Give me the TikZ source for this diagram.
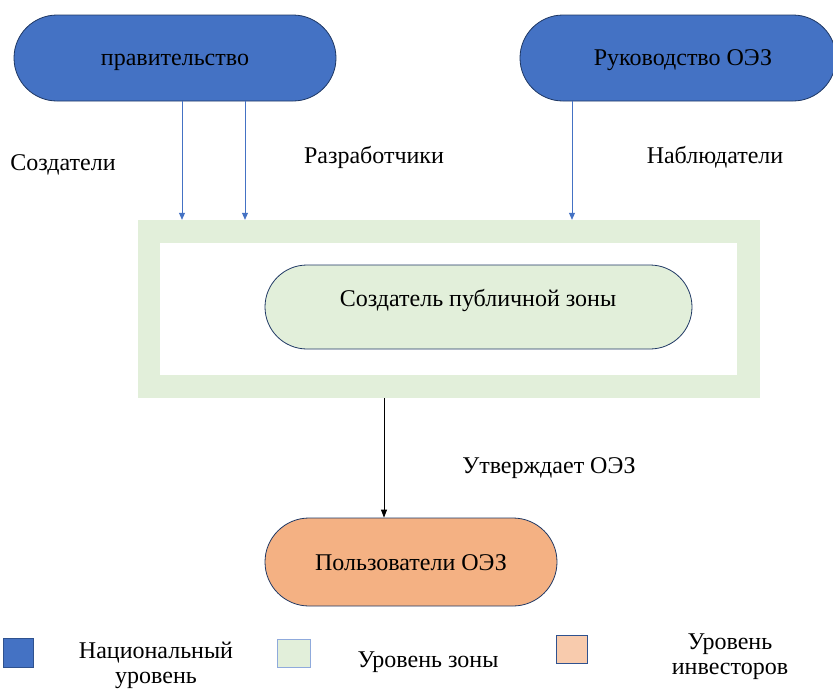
\documentclass[tikz,border=0pt]{standalone}
\usepackage{fontspec}
\setmainfont{Liberation Serif}
\usetikzlibrary{shapes.misc,arrows.meta}
\definecolor{natblue}{HTML}{4472C4}
\definecolor{natborder}{HTML}{2F528F}
\definecolor{zonegreen}{HTML}{E2EFDA}
\definecolor{invorange}{HTML}{F4B183}
\definecolor{invlight}{HTML}{F8CBAD}
\definecolor{darkline}{HTML}{1F3864}
\tikzset{
  stadium/.style={rounded rectangle, draw=darkline, line width=0.8pt, inner sep=0pt},
  lbl/.style={font=\fontsize{24}{25}\selectfont, align=center, inner sep=0pt},
  baselbl/.style={lbl, anchor=base},
  bluearrow/.style={draw=natblue, line width=0.8pt, -{Triangle[width=6pt,length=7pt]}},
  blackarrow/.style={draw=black, line width=0.8pt, -{Triangle[width=6pt,length=8pt]}},
  legbox/.style={minimum width=30pt, minimum height=29pt, inner sep=0pt, line width=0.8pt},
}
\begin{document}
\begin{tikzpicture}[x=1pt,y=-1pt]
\useasboundingbox (0,0) rectangle (833,689);
% top nodes
\node[stadium, fill=natblue, minimum width=322pt, minimum height=86pt] (gov) at (175,58) {};
\node[baselbl] (govtext) at (175,65) {правительство};
\node[stadium, fill=natblue, minimum width=316pt, minimum height=86pt] (adm) at (678,58) {};
\node[baselbl] (admtext) at (683,65) {Руководство ОЭЗ};
% frame
\fill[zonegreen] (138,220) rectangle (760,398);
\fill[white] (160,243) rectangle (737,375);
\node[inner sep=0pt, minimum width=622pt, minimum height=178pt] (frame) at (449,309) {};
% inner stadium
\node[stadium, fill=zonegreen, minimum width=427pt, minimum height=84pt] (creator) at (478.5,307) {};
\node[baselbl] (creatortext) at (478,306.5) {Создатель публичной зоны};
% users
\node[stadium, fill=invorange, minimum width=292pt, minimum height=88pt] (users) at (411,562) {};
\node[baselbl] (userstext) at (411,570) {Пользователи ОЭЗ};
% arrows
\draw[bluearrow] (gov.south -| 182,0) -- (frame.north -| 182,0);
\draw[bluearrow] (gov.south -| 245,0) -- (frame.north -| 245,0);
\draw[bluearrow] (adm.south -| 572,0) -- (frame.north -| 572,0);
\draw[blackarrow] (frame.south -| 384,0) -- (users.north -| 384,0);
% labels
\node[baselbl] (l1) at (63,170) {Создатели};
\node[baselbl] (l2) at (374,163) {Разработчики};
\node[baselbl] (l3) at (715,163) {Наблюдатели};
\node[baselbl] (l4) at (549,473) {Утверждает ОЭЗ};
% legend
\node[legbox, fill=natblue, draw=natborder] (lg1) at (18,652.5) {};
\node[lbl] (lt1) at (156,665.5) {Национальный\\уровень};
\node[legbox, fill=zonegreen, draw=natblue!60, minimum width=33pt, minimum height=28pt] (lg2) at (294,653) {};
\node[baselbl] (lt2) at (428,667) {Уровень зоны};
\node[legbox, fill=invlight, draw=natborder, minimum width=31pt, minimum height=28pt] (lg3) at (571.5,649) {};
\node[lbl] (lt3) at (730,656.5) {Уровень\\инвесторов};
\end{tikzpicture}
\end{document}
